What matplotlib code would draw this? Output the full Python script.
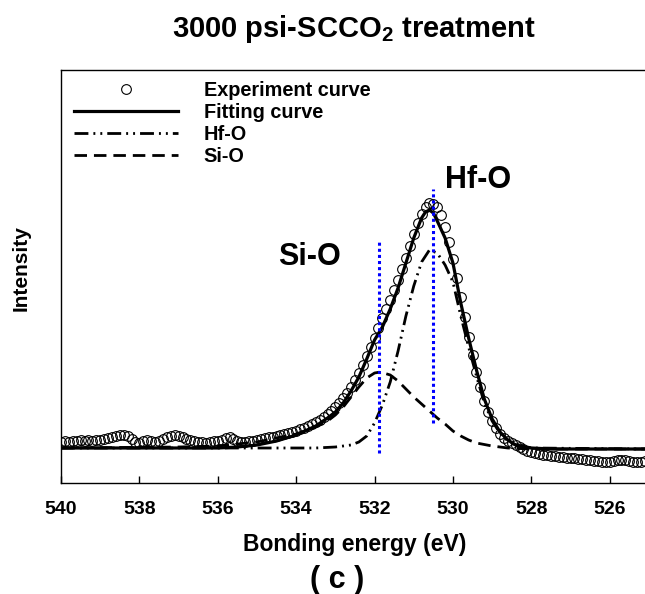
import numpy as np
import matplotlib
matplotlib.use("Agg")
import matplotlib.pyplot as plt
from matplotlib.lines import Line2D

plt.rcParams['font.family'] = ['Liberation Sans', 'DejaVu Sans']
plt.rcParams['font.weight'] = 'bold'
plt.rcParams['mathtext.fontset'] = 'custom'
plt.rcParams['mathtext.bf'] = 'Liberation Sans:bold'
plt.rcParams['mathtext.rm'] = 'Liberation Sans:bold'

# ---------------- data ----------------
exp_energy = np.linspace(540.0, 525.1, 150)
exp_intensity = [
    41, 42, 41, 42, 42, 43, 42, 43, 42, 43,
    43, 44, 45, 46, 47, 48, 48, 47, 44, 41,
    40, 42, 43, 42, 41, 42, 44, 46, 47, 48,
    47, 46, 44, 43, 42, 41, 41, 40, 41, 42,
    42, 43, 45, 46, 44, 42, 41, 41, 42, 42,
    43, 44, 45, 46, 46, 47, 48, 49, 50, 51,
    52, 54, 55, 57, 59, 61, 63, 66, 69, 72,
    76, 80, 85, 90, 96, 103, 110, 118, 127, 136,
    145, 155, 165, 174, 183, 193, 203, 214, 225, 237,
    249, 260, 269, 276, 280, 279, 276, 268, 256, 241,
    224, 205, 186, 166, 146, 128, 111, 96, 82, 71,
    62, 55, 49, 45, 42, 40, 38, 36, 34, 32,
    31, 30, 29, 28, 28, 27, 27, 26, 26, 25,
    25, 25, 24, 24, 23, 23, 22, 22, 21, 21,
    21, 22, 23, 23, 23, 22, 21, 21, 21, 22,
]

fit_energy = [540, 536, 535.5, 535, 534.5, 534, 533.5, 533.2, 533, 532.8,
              532.6, 532.4, 532.2, 532.0, 531.8, 531.6, 531.4, 531.2, 531.0,
              530.8, 530.7, 530.6, 530.5, 530.4, 530.2, 530.0, 529.8, 529.6,
              529.4, 529.2, 529.0, 528.8, 528.6, 528.4, 528.0, 527.5, 525.1]
fit_intensity = [35, 35, 36, 38, 42, 48, 57, 65, 71, 80,
                 92, 106, 124, 143, 156, 174, 195, 220, 245,
                 265, 271, 273, 270, 262, 245, 220, 180, 145,
                 113, 84, 64, 51, 43, 38, 35, 34, 34]

hfo_energy = [540, 533.5, 533, 532.6, 532.4, 532.2, 532.0, 531.8, 531.6, 531.4,
              531.2, 531.0, 530.8, 530.6, 530.4, 530.2, 530.0, 529.8, 529.6,
              529.4, 529.2, 529.0, 528.8, 528.6, 528.4, 528.0, 525.1]
hfo_intensity = [35, 35, 36, 38, 41, 47, 60, 78, 101, 132,
                 167, 197, 221, 233, 230, 218, 201, 167, 136,
                 107, 80, 62, 50, 42, 38, 35, 34]

sio_energy = [540, 537, 536, 535.5, 535, 534.5, 534, 533.5, 533.2, 533, 532.8,
              532.6, 532.4, 532.2, 532.0, 531.85, 531.6, 531.4, 531.2, 531.0,
              530.8, 530.6, 530.4, 530.2, 530.0, 529.8, 529.6, 529.4, 529.0,
              528.6, 528.0, 525.1]
sio_intensity = [35, 36, 37, 39, 41, 45, 49, 56, 62, 68, 76,
                 86, 96, 105, 110, 111, 108, 102, 94, 86,
                 79, 72, 65, 59, 52, 47, 43, 40, 37,
                 35, 34, 34]

peak_positions = [531.89, 530.50]
peak_line_bottom = [30, 60]
peak_line_top = [241, 294]

xticks = [540, 538, 536, 534, 532, 530, 528, 526]

# ---------------- figure ----------------
W, H = 645, 594
fig = plt.figure(figsize=(W / 100, H / 100), dpi=100)
ax_left, ax_top, ax_bottom = 61, 70, 483
ax_h = ax_bottom - ax_top
ax_w = W - ax_left
ax = fig.add_axes([ax_left / W, 1 - ax_bottom / H, ax_w / W, ax_h / H])

HFO_STYLE = (0, (5, 1.8, 0.7, 1.8, 0.7, 1.8))
SIO_STYLE = (0, (4.5, 2.5))

ax.plot(fit_energy, fit_intensity, color='black', lw=2.3, zorder=3,
        solid_joinstyle='round')
ax.plot(hfo_energy, hfo_intensity, color='black', lw=2.0, zorder=2,
        linestyle=HFO_STYLE)
ax.plot(sio_energy, sio_intensity, color='black', lw=2.0, zorder=2,
        linestyle=SIO_STYLE)
ax.plot(exp_energy, exp_intensity, linestyle='none', marker='o', ms=7,
        mfc='none', mec='black', mew=0.8, zorder=4)

for e, b, t in zip(peak_positions, peak_line_bottom, peak_line_top):
    ax.plot([e, e], [b, t], color='#0000ff', lw=2.2, linestyle=(0, (1, 1)), zorder=5)

ax.text(533.65, 226, 'Si-O', fontsize=22, fontweight='bold', ha='center', va='center')
ax.text(529.35, 303, 'Hf-O', fontsize=22, fontweight='bold', ha='center', va='center')

ax.set_xlim(540, 525.1)
ax.set_ylim(0, 413)
ax.set_xticks(xticks)
ax.set_xticklabels([str(t) for t in xticks], fontsize=14, fontweight='bold')
ax.set_yticks([])
ax.tick_params(axis='x', direction='in', length=5, width=1, pad=13)
for s in ['left', 'top', 'bottom']:
    ax.spines[s].set_linewidth(1.0)
ax.spines['right'].set_visible(False)

ax.set_xlabel('Bonding energy (eV)', fontsize=16.5, fontweight='bold', va='center')
ax.xaxis.set_label_coords((355 - ax_left) / ax_w, (ax_bottom - 544) / ax_h)
ax.set_ylabel('Intensity', fontsize=15, fontweight='bold', va='center')
ax.yaxis.set_label_coords((21 - ax_left) / ax_w, (ax_bottom - 268) / ax_h)

fig.text(354 / W, 1 - 29 / H, r'3000 psi-SCCO$_\mathbf{2}$ treatment',
         fontsize=21, fontweight='bold', ha='center', va='center')
fig.text(337 / W, 1 - 580 / H, '( c )', fontsize=22,
         fontweight='bold', ha='center', va='center')

handles = [
    Line2D([], [], linestyle='none', marker='o', ms=7, mfc='none', mec='black', mew=0.8),
    Line2D([], [], color='black', lw=2.3),
    Line2D([], [], color='black', lw=2.0, linestyle=HFO_STYLE),
    Line2D([], [], color='black', lw=2.0, linestyle=SIO_STYLE),
]
labels = ['Experiment curve', 'Fitting curve', 'Hf-O', 'Si-O']
leg = ax.legend(handles, labels, loc='upper left', frameon=False,
                bbox_to_anchor=(74 / W, 1 - 81 / H), bbox_transform=fig.transFigure,
                borderpad=0, borderaxespad=0, handlelength=5.23, handletextpad=1.3,
                labelspacing=0.15, prop={'weight': 'bold', 'size': 14.3})

fig.savefig('out.png', dpi=100)
